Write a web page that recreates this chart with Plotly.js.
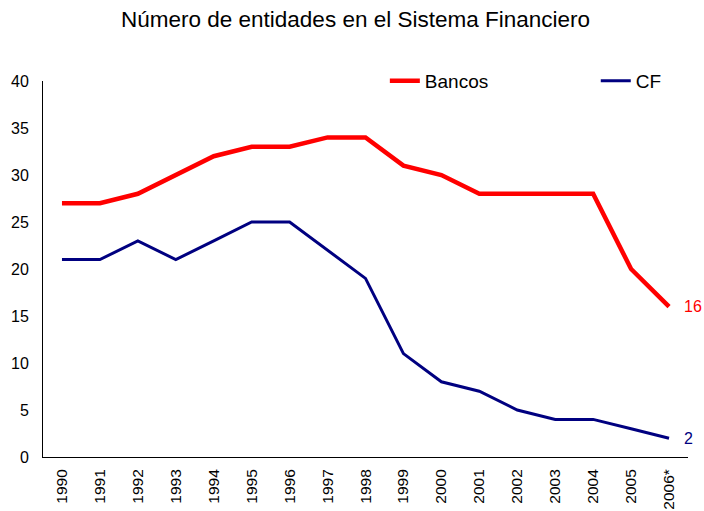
<!DOCTYPE html>
<html>
<head>
<meta charset="utf-8">
<script src="https://cdn.plot.ly/plotly-3.0.1.min.js"></script>
<style>html,body{margin:0;padding:0;background:#fff;}</style>
</head>
<body>
<div id="chart" style="width:704px;height:511px;"></div>
<script>
const years = ["1990","1991","1992","1993","1994","1995","1996","1997","1998","1999","2000","2001","2002","2003","2004","2005","2006*"];
const bancos = [27,27,28,30,32,33,33,34,34,31,30,28,28,28,28,20,16];
const cf = [21,21,23,21,23,25,25,22,19,11,8,7,5,4,4,3,2];
const yTicks = [0,5,10,15,20,25,30,35,40];

const font = "Arial, 'Liberation Sans', sans-serif";

const traces = [
  {x: years, y: bancos, name: "Bancos", type: "scatter", mode: "lines",
   line: {color: "#FF0000", width: 4.5}, legend: "legend"},
  {x: years, y: cf, name: "CF", type: "scatter", mode: "lines",
   line: {color: "#000080", width: 3}, legend: "legend2"}
];

const legendBase = {orientation: "h", xanchor: "left", y: 1.0, yanchor: "middle",
  bgcolor: "rgba(0,0,0,0)", font: {family: font, size: 19, color: "#000"}};

const last = years.length - 1;
const layout = {
  width: 704, height: 511,
  margin: {l: 43, r: 16, t: 81, b: 54},
  paper_bgcolor: "#fff", plot_bgcolor: "#fff",
  font: {family: font, size: 16, color: "#000"},
  title: {text: "Número de entidades en el Sistema Financiero", font: {family: font, size: 22.5, color: "#000"},
          x: 0.505, xanchor: "center", y: 0.962, yanchor: "middle"},
  showlegend: true,
  legend: Object.assign({}, legendBase, {x: 0.530}),
  legend2: Object.assign({}, legendBase, {x: 0.857}),
  xaxis: {type: "category", range: [-0.5, 16.5], showgrid: false, zeroline: false,
          showline: true, linecolor: "#000", linewidth: 1, ticks: "", tickangle: -90,
          tickfont: {family: font, size: 15.5, color: "#000"}, ticklabelstandoff: 5, fixedrange: true},
  yaxis: {range: [0, 40], tickvals: yTicks, showgrid: false, zeroline: false,
          showline: true, linecolor: "#000", linewidth: 1, ticks: "",
          tickfont: {family: font, size: 16, color: "#000"}, ticklabelstandoff: 10, fixedrange: true},
  annotations: [
    {x: years[last], y: bancos[last], text: String(bancos[last]), showarrow: false, xanchor: "left",
     xshift: 13, font: {family: font, size: 16, color: "#FF0000"}},
    {x: years[last], y: cf[last], text: String(cf[last]), showarrow: false, xanchor: "left",
     xshift: 13, font: {family: font, size: 16, color: "#000080"}}
  ]
};

Plotly.newPlot("chart", traces, layout, {displayModeBar: false, staticPlot: true});
</script>
</body>
</html>
